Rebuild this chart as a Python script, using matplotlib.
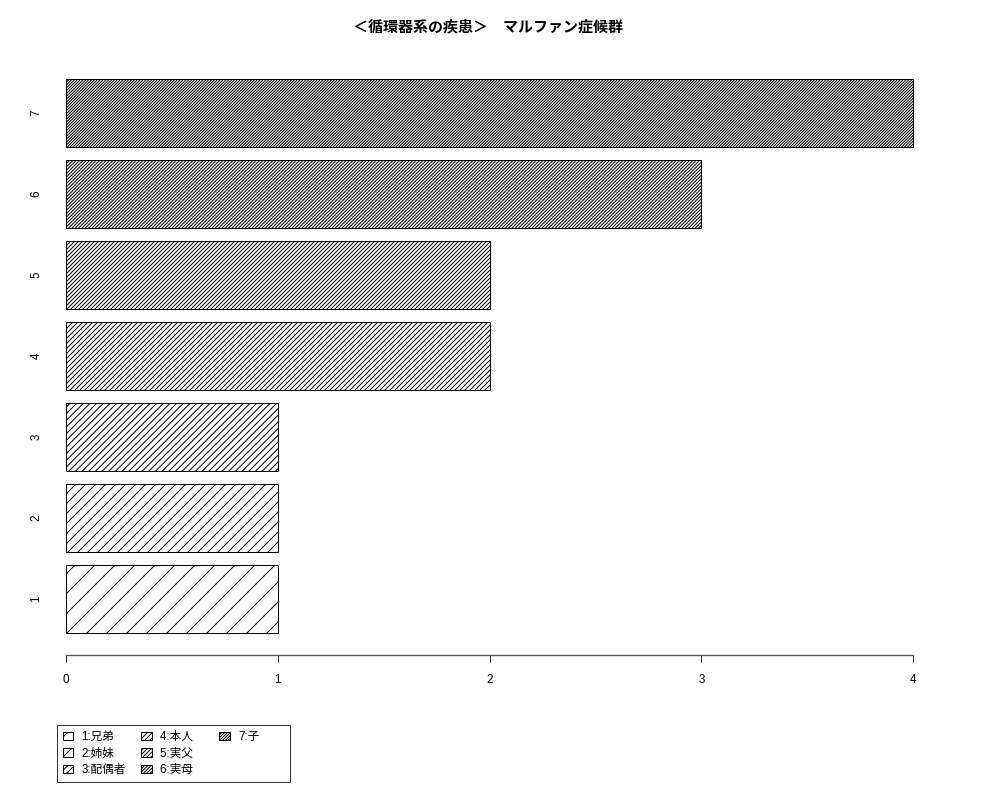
import matplotlib
matplotlib.use("Agg")
import matplotlib.pyplot as plt
from matplotlib.patches import Patch

categories = ["1", "2", "3", "4", "5", "6", "7"]
values = [1, 1, 1, 2, 2, 3, 4]
legend_labels = ["1:兄弟", "2:姉妹", "3:配偶者", "4:本人", "5:実父", "6:実母", "7:子"]
xticks = [0, 1, 2, 3, 4]
title = "＜循環器系の疾患＞　マルファン症候群"

DPI = 120
plt.rcParams['font.family'] = ['Liberation Sans', 'Noto Sans CJK JP', 'DejaVu Sans']
plt.rcParams['hatch.linewidth'] = 0.6
plt.rcParams['hatch.color'] = 'black'

fig = plt.figure(figsize=(1000 / DPI, 800 / DPI), dpi=DPI)
ax = fig.add_axes([32 / 1000, 145 / 800, 915 / 1000, 598 / 800])

width = 1.0
space = 0.2
pos = [space + width / 2 + i * (width + space) for i in range(len(values))]
hatches = ['/' * (2 * (i + 1)) for i in range(len(values))]

for p, v, h in zip(pos, values, hatches):
    ax.barh(p, v, height=width, left=0, facecolor='white', edgecolor='black',
            linewidth=0.6, hatch=h)

lo = space
hi = pos[-1] + width / 2
ext = 0.04 * (hi - lo)
ax.set_ylim(lo - ext, hi + ext)
xmax = max(values)
ax.set_xlim(-0.04 * xmax, xmax * 1.04)

for s in ['top', 'right', 'left']:
    ax.spines[s].set_visible(False)
ax.spines['bottom'].set_bounds(0, xmax)
ax.spines['bottom'].set_color('#555555')
ax.spines['bottom'].set_linewidth(0.8)

ax.set_xticks(xticks)
ax.set_xticklabels([str(t) for t in xticks], fontsize=7)
ax.tick_params(axis='x', direction='out', length=4.2, width=0.6, color='#222222', pad=7)

ax.set_yticks(pos)
ax.set_yticklabels(categories, fontsize=7, rotation=90)
ax.tick_params(axis='y', length=0, pad=-2.7)
for lab in ax.get_yticklabels():
    lab.set_ha('center')
    lab.set_va('center')

fig.text((30 + 945) / 2 / 1000, 1 - 26 / 800, title, ha='center', va='center',
         fontsize=9, fontweight='bold',
         family=['Noto Sans CJK JP', 'DejaVu Sans'])

handles = [Patch(facecolor='white', edgecolor='black', linewidth=0.6, hatch=h)
           for h in hatches]
# equal-width columns as in the reference (whitespace padding only)
labels = [lab + ("　" if 3 <= i <= 5 else "") for i, lab in enumerate(legend_labels)]
# two invisible slots so the columns fill 3, 3, 1 as in the reference
for _ in range(2):
    handles.append(Patch(facecolor='none', edgecolor='none'))
    labels.append("　　　　")
leg = fig.legend(handles, labels, ncol=3, loc='upper left',
                 bbox_to_anchor=(57 / 1000, 1 - 725 / 800), borderaxespad=0,
                 fontsize=7, frameon=True, fancybox=False, shadow=False,
                 handlelength=0.9, handleheight=0.7, handletextpad=0.7,
                 columnspacing=1.3, labelspacing=0.4, borderpad=0.5)
leg.get_frame().set_edgecolor('black')
leg.get_frame().set_linewidth(0.6)

fig.savefig("out.png", dpi=DPI)
